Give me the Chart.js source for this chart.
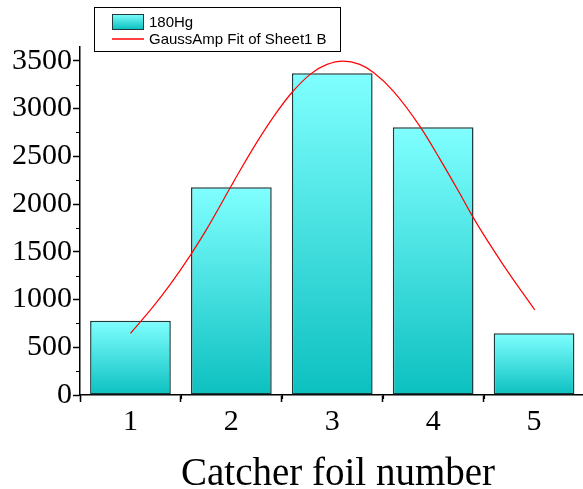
<!DOCTYPE html>
<html>
<head>
<meta charset="utf-8">
<script src="https://cdn.jsdelivr.net/npm/chart.js@4/dist/chart.umd.min.js"></script>
<style>
  html, body { margin: 0; padding: 0; background: #fff; }
  canvas { display: block; }
</style>
</head>
<body>
<canvas id="c" width="583" height="489"></canvas>
<script>
// Counts collected on each catcher foil (180Hg)
const foilNumbers = [1, 2, 3, 4, 5];
const counts180Hg = [778, 2175, 3368, 2803, 646];

// GaussAmp fit curve, sampled along the foil axis
const fitX = [1.00, 1.225, 1.389, 1.598, 1.76, 1.994, 2.083, 2.255, 2.419, 2.602, 2.794,
              2.948, 3.107, 3.272, 3.409, 3.607, 3.877, 4.07, 4.264, 4.396, 4.696, 5.007];
const fitY = [646, 925, 1150, 1470, 1745, 2180, 2345, 2650, 2915, 3170, 3368,
              3462, 3497, 3462, 3378, 3180, 2800, 2465, 2110, 1860, 1360, 890];

// Axis tick values
const xTicks = [1, 2, 3, 4, 5];
const xMinorTicks = [0.5, 1.5, 2.5, 3.5, 4.5];
const yTicks = [0, 500, 1000, 1500, 2000, 2500, 3000, 3500];
const yMinorTicks = [250, 750, 1250, 1750, 2250, 2750, 3250];

const seriesLabels = ['180Hg', 'GaussAmp Fit of Sheet1 B'];
const xAxisTitle = 'Catcher foil number';

const CYAN_TOP = '#80FFFF';
const CYAN_BOTTOM = '#0CC0C0';
const BAR_EDGE = '#1E3A3A';
const FIT_RED = '#FF0000';

function barGradient(ctx) {
  const chart = ctx.chart;
  if (!chart.chartArea || ctx.type !== 'data') return '#40E0E0';
  const ys = chart.scales.y;
  const top = ys.getPixelForValue(ctx.parsed.y);
  const bottom = ys.getPixelForValue(0);
  const g = chart.ctx.createLinearGradient(0, top, 0, bottom);
  g.addColorStop(0, CYAN_TOP);
  g.addColorStop(1, CYAN_BOTTOM);
  return g;
}

// Short minor tick marks on both axes, plus the x-axis title
const axisExtras = {
  id: 'axisExtras',
  afterDraw(chart) {
    const { ctx, scales: { x, y } } = chart;
    ctx.save();
    ctx.strokeStyle = '#000';
    ctx.lineWidth = 1.2;
    ctx.beginPath();
    yMinorTicks.forEach(v => {
      const py = Math.round(y.getPixelForValue(v)) + 0.5;
      ctx.moveTo(x.left - 4, py);
      ctx.lineTo(x.left, py);
    });
    xMinorTicks.forEach(v => {
      const px = Math.round(x.getPixelForValue(v)) + 0.5;
      ctx.moveTo(px, y.bottom);
      ctx.lineTo(px, y.bottom + 4);
    });
    ctx.stroke();

    ctx.fillStyle = '#000';
    ctx.font = '39px "Liberation Serif", "Times New Roman", serif';
    ctx.textAlign = 'center';
    ctx.textBaseline = 'alphabetic';
    ctx.fillText(xAxisTitle, 338, 485);
    ctx.restore();
  }
};

// Boxed legend in the upper left
const boxLegend = {
  id: 'boxLegend',
  afterDraw(chart) {
    const ctx = chart.ctx;
    ctx.save();
    ctx.fillStyle = '#fff';
    ctx.fillRect(94.5, 7.5, 246, 44);
    ctx.strokeStyle = '#000';
    ctx.lineWidth = 1;
    ctx.strokeRect(94.5, 7.5, 246, 44);

    const g = ctx.createLinearGradient(0, 14, 0, 29);
    g.addColorStop(0, CYAN_TOP);
    g.addColorStop(1, CYAN_BOTTOM);
    ctx.fillStyle = g;
    ctx.fillRect(112, 14, 31, 15);
    ctx.strokeStyle = BAR_EDGE;
    ctx.lineWidth = 1;
    ctx.strokeRect(112.5, 14.5, 31, 15);

    ctx.strokeStyle = FIT_RED;
    ctx.lineWidth = 1.5;
    ctx.beginPath();
    ctx.moveTo(112, 39);
    ctx.lineTo(144, 39);
    ctx.stroke();

    ctx.fillStyle = '#000';
    ctx.font = '15px "Liberation Sans", Arial, sans-serif';
    ctx.textBaseline = 'middle';
    ctx.textAlign = 'left';
    ctx.fillText(seriesLabels[0], 149, 22.5);
    ctx.fillText(seriesLabels[1], 149, 40);
    ctx.restore();
  }
};

Chart.defaults.font.family = '"Liberation Serif", "Times New Roman", serif';
Chart.defaults.color = '#000';

new Chart(document.getElementById('c'), {
  type: 'bar',
  data: {
    datasets: [
      {
        type: 'line',
        label: seriesLabels[1],
        data: fitX.map((xv, i) => ({ x: xv, y: fitY[i] })),
        borderColor: FIT_RED,
        borderWidth: 1.2,
        pointRadius: 0,
        fill: false,
        cubicInterpolationMode: 'monotone',
        order: 0
      },
      {
        type: 'bar',
        label: seriesLabels[0],
        data: foilNumbers.map((f, i) => ({ x: f, y: counts180Hg[i] })),
        backgroundColor: barGradient,
        borderColor: BAR_EDGE,
        borderWidth: 1.5,
        borderSkipped: false,
        barPercentage: 0.8,
        categoryPercentage: 1.0,
        order: 1
      }
    ]
  },
  options: {
    responsive: false,
    animation: false,
    layout: { padding: { top: 47, right: 0, left: 0, bottom: 0 } },
    plugins: { legend: { display: false }, tooltip: { enabled: false } },
    scales: {
      x: {
        type: 'linear',
        min: 0.5,
        max: 5.485,
        offset: false,
        afterBuildTicks: s => { s.ticks = xTicks.map(v => ({ value: v })); },
        afterFit: s => { s.height = 94; },
        ticks: {
          font: { size: 30 },
          padding: 2,
          maxRotation: 0,
          autoSkip: false,
          callback: v => String(v)
        },
        grid: {
          display: true,
          drawOnChartArea: false,
          drawTicks: true,
          tickLength: 7,
          tickWidth: 1.5,
          tickColor: '#000'
        },
        border: { display: true, color: '#000', width: 1.5 },
        title: { display: false }
      },
      y: {
        type: 'linear',
        min: 0,
        max: 3644,
        afterBuildTicks: s => { s.ticks = yTicks.map(v => ({ value: v })); },
        afterFit: s => { s.width = 80; },
        ticks: {
          font: { size: 30 },
          padding: 1,
          callback: v => String(v)
        },
        grid: {
          display: true,
          drawOnChartArea: false,
          drawTicks: true,
          tickLength: 7,
          tickWidth: 1.5,
          tickColor: '#000'
        },
        border: { display: true, color: '#000', width: 1.5 }
      }
    }
  },
  plugins: [axisExtras, boxLegend]
});
</script>
</body>
</html>
